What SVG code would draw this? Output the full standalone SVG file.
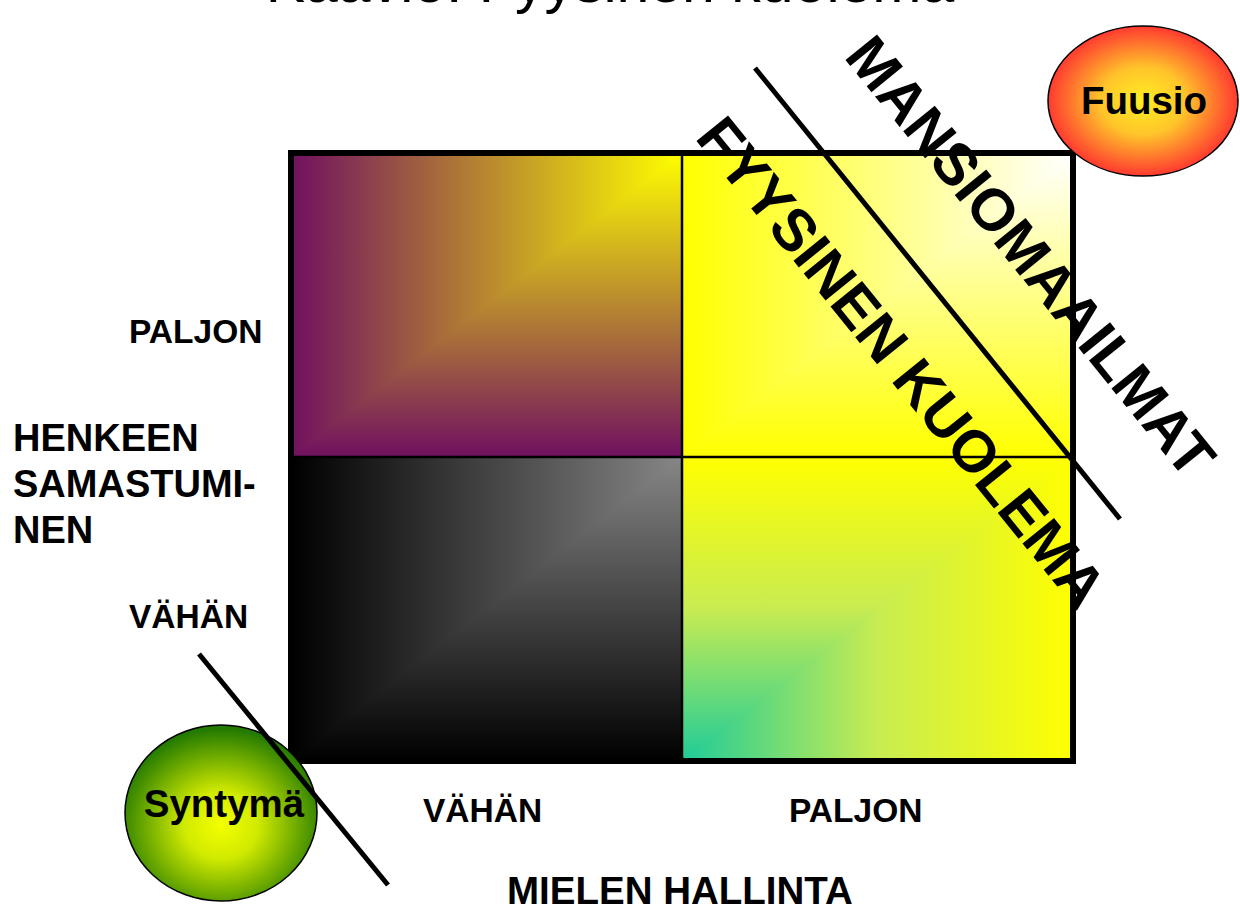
<svg xmlns="http://www.w3.org/2000/svg" width="1240" height="910" viewBox="0 0 1240 910">
<style>
text{font-family:"Liberation Sans",Arial,sans-serif;font-weight:bold;fill:#000}
.lbl{font-size:33.5px}
.axis{font-size:38px}
.diag{font-size:59px}
.node{font-size:38.5px}
.thin{stroke:#000;stroke-width:2.5;fill:none}
.thick{stroke:#000;stroke-width:5;fill:none}
</style>
<defs>
<linearGradient id="tlH" gradientUnits="userSpaceOnUse" x1="291" y1="0" x2="682" y2="0"><stop offset="0" stop-color="#701060"/><stop offset="1" stop-color="#FFFF00"/></linearGradient>
<linearGradient id="tlV" gradientUnits="userSpaceOnUse" x1="0" y1="153" x2="0" y2="457"><stop offset="0" stop-color="#FFFF00"/><stop offset="1" stop-color="#701060"/></linearGradient>
<linearGradient id="blH" gradientUnits="userSpaceOnUse" x1="291" y1="0" x2="682" y2="0"><stop offset="0" stop-color="#000"/><stop offset="1" stop-color="#868686"/></linearGradient>
<linearGradient id="blV" gradientUnits="userSpaceOnUse" x1="0" y1="457" x2="0" y2="761"><stop offset="0" stop-color="#868686"/><stop offset="1" stop-color="#000"/></linearGradient>
<linearGradient id="brV" gradientUnits="userSpaceOnUse" x1="0" y1="457" x2="0" y2="761"><stop offset="0" stop-color="#FFFF00"/><stop offset="0.5" stop-color="#C8EC52"/><stop offset="1" stop-color="#1ECC99"/></linearGradient>
<linearGradient id="brH" gradientUnits="userSpaceOnUse" x1="682" y1="0" x2="1073" y2="0"><stop offset="0" stop-color="#1ECC99"/><stop offset="0.5" stop-color="#C8EC52"/><stop offset="1" stop-color="#FFFF00"/></linearGradient>
<linearGradient id="trH" gradientUnits="userSpaceOnUse" x1="682" y1="0" x2="1073" y2="0"><stop offset="0" stop-color="#FFFF00"/><stop offset="1" stop-color="#FFFFFF"/></linearGradient>
<linearGradient id="trV" gradientUnits="userSpaceOnUse" x1="0" y1="153" x2="0" y2="457"><stop offset="0" stop-color="#FFFFFF"/><stop offset="1" stop-color="#FFFF00"/></linearGradient>
<radialGradient id="fuusioG" cx="0.5" cy="0.5" r="0.5"><stop offset="0" stop-color="#FFEE22"/><stop offset="0.45" stop-color="#FFC42A"/><stop offset="1" stop-color="#FF3A30"/></radialGradient>
<radialGradient id="syntG" cx="0.5" cy="0.57" r="0.55"><stop offset="0" stop-color="#F4FF00"/><stop offset="0.35" stop-color="#D0EA00"/><stop offset="1" stop-color="#237A00"/></radialGradient>
</defs>

<text x="610" y="2" text-anchor="middle" style="font-size:59px;font-weight:normal">Kaavio: Fyysinen kuolema</text>

<g id="matrix">
  <g id="q-tl">
    <rect x="291" y="153" width="391" height="304" fill="url(#tlV)"/>
    <polygon points="291,153 682,153 291,457" fill="url(#tlH)"/>
  </g>
  <g id="q-tr">
    <rect x="682" y="153" width="391" height="304" fill="url(#trV)"/>
    <polygon points="682,153 1073,153 682,457" fill="url(#trH)"/>
  </g>
  <g id="q-bl">
    <rect x="291" y="457" width="391" height="304" fill="url(#blV)"/>
    <polygon points="291,457 682,457 291,761" fill="url(#blH)"/>
  </g>
  <g id="q-br">
    <rect x="682" y="457" width="391" height="304" fill="url(#brH)"/>
    <polygon points="682,457 1073,457 682,761" fill="url(#brV)"/>
  </g>
  <line class="thin" x1="682" y1="153" x2="682" y2="761"/>
  <line class="thin" x1="291" y1="457" x2="1073" y2="457"/>
  <rect x="291" y="153" width="782" height="608" fill="none" stroke="#000" stroke-width="6"/>
</g>

<g id="labels">
  <text class="lbl" x="129" y="343">PALJON</text>
  <text class="lbl" x="129" y="628">VÄHÄN</text>
  <text class="axis" x="13" y="451">HENKEEN</text>
  <text class="axis" x="13" y="497">SAMASTUMI-</text>
  <text class="axis" x="13" y="543">NEN</text>
  <text class="lbl" x="423" y="822">VÄHÄN</text>
  <text class="lbl" x="789" y="822">PALJON</text>
  <text class="axis" x="507" y="904" style="font-size:38.5px">MIELEN HALLINTA</text>
</g>

<g id="syntyma">
  <ellipse cx="221" cy="813" rx="96" ry="88" fill="url(#syntG)" stroke="#000" stroke-width="1.5"/>
  <text class="node" x="224" y="817" text-anchor="middle">Syntymä</text>
</g>

<g id="fuusio">
  <ellipse cx="1143" cy="101" rx="95" ry="75" fill="url(#fuusioG)" stroke="#000" stroke-width="1.5"/>
  <text class="node" x="1144" y="114" text-anchor="middle">Fuusio</text>
</g>

<g id="connectors">
  <line class="thick" x1="755" y1="68" x2="1120" y2="519"/>
  <line class="thick" x1="199" y1="654" x2="388" y2="885"/>
</g>

<g id="mansiomaailmat">
  <text class="diag" transform="translate(843,57) rotate(51)">MANSIOMAAILMAT</text>
</g>
<g id="fyysinen-kuolema">
  <text class="diag" transform="translate(694,138) rotate(51)">FYYSINEN KUOLEMA</text>
</g>
</svg>
